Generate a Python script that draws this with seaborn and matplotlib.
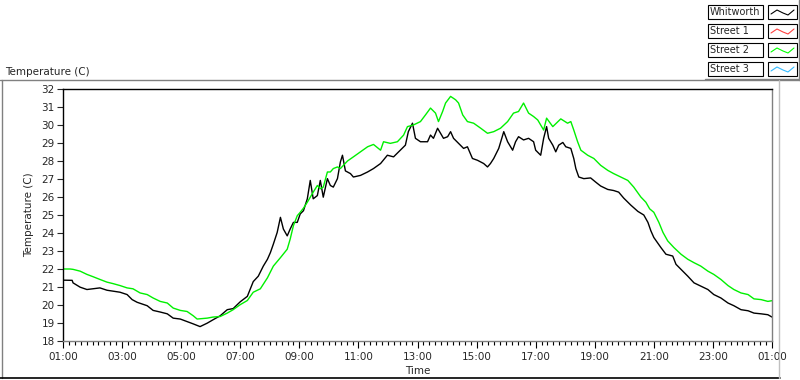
import matplotlib
matplotlib.use("Agg")
import matplotlib.pyplot as plt
import matplotlib.patches as mpatches
from matplotlib.lines import Line2D
from matplotlib.ticker import MultipleLocator
import pandas as pd
import seaborn as sns

# hours after 01:00, temperature in C
whitworth_h = [0.00, 0.31, 0.34, 0.58, 0.81, 1.02, 1.25, 1.49, 1.69, 1.93, 2.17, 2.34, 2.51,
               2.85, 3.05, 3.29, 3.53, 3.73, 3.97, 4.20, 4.41, 4.64, 4.88, 5.08, 5.32, 5.56,
               5.76, 6.00, 6.24, 6.44, 6.61, 6.78, 6.92, 7.02, 7.12, 7.25, 7.36, 7.46, 7.59,
               7.69, 7.80, 7.93, 8.03, 8.14, 8.27, 8.37, 8.47, 8.61, 8.71, 8.81, 8.95, 9.05,
               9.15, 9.29, 9.39, 9.46, 9.56, 9.73, 9.83, 10.07, 10.31, 10.51, 10.75, 10.98,
               11.19, 11.42, 11.59, 11.69, 11.83, 11.93, 12.10, 12.34, 12.44, 12.54, 12.68,
               12.78, 12.88, 13.02, 13.12, 13.22, 13.39, 13.56, 13.69, 13.86, 14.03, 14.24,
               14.37, 14.47, 14.58, 14.75, 14.92, 15.05, 15.22, 15.32, 15.42, 15.59, 15.76,
               15.93, 16.00, 16.17, 16.27, 16.37, 16.44, 16.58, 16.68, 16.78, 16.92, 17.02,
               17.19, 17.29, 17.36, 17.46, 17.63, 17.86, 18.03, 18.20, 18.44, 18.64, 18.81,
               18.98, 19.22, 19.46, 19.66, 19.80, 19.90, 20.00, 20.24, 20.41, 20.64, 20.75,
               20.92, 21.15, 21.36, 21.59, 21.83, 22.03, 22.27, 22.51, 22.71, 22.95, 23.19,
               23.39, 23.63, 23.86, 24.00]
whitworth_t = [21.38, 21.37, 21.23, 20.99, 20.86, 20.90, 20.95, 20.82, 20.77, 20.71, 20.58,
               20.30, 20.15, 19.96, 19.70, 19.61, 19.51, 19.27, 19.22, 19.08, 18.95, 18.80,
               18.99, 19.18, 19.40, 19.74, 19.80, 20.18, 20.48, 21.30, 21.60, 22.16, 22.54,
               22.91, 23.38, 24.03, 24.87, 24.22, 23.84, 24.22, 24.59, 24.59, 25.06, 25.24,
               25.90, 26.92, 25.90, 26.08, 26.92, 25.99, 27.02, 26.64, 26.55, 27.02, 27.95,
               28.32, 27.45, 27.30, 27.11, 27.20, 27.39, 27.58, 27.86, 28.32, 28.23, 28.60,
               28.88, 29.63, 30.10, 29.26, 29.07, 29.07, 29.44, 29.26, 29.82, 29.54, 29.26,
               29.35, 29.63, 29.26, 28.98, 28.70, 28.79, 28.14, 28.04, 27.86, 27.67, 27.86,
               28.14, 28.70, 29.63, 29.07, 28.60, 29.07, 29.35, 29.17, 29.26, 29.07, 28.60,
               28.32, 29.26, 29.91, 29.26, 28.88, 28.51, 28.88, 29.03, 28.79, 28.70, 28.14,
               27.58, 27.11, 27.02, 27.06, 26.83, 26.61, 26.42, 26.36, 26.27, 25.94, 25.55,
               25.20, 25.00, 24.59, 24.12, 23.75, 23.19, 22.82, 22.72, 22.26, 21.98, 21.60,
               21.23, 21.05, 20.86, 20.58, 20.39, 20.11, 19.96, 19.74, 19.68, 19.55, 19.51,
               19.46, 19.33]

street2_h = [0.00, 0.24, 0.34, 0.58, 0.81, 1.02, 1.25, 1.49, 1.69, 1.93, 2.17, 2.37, 2.61,
             2.85, 3.05, 3.29, 3.53, 3.73, 3.97, 4.20, 4.41, 4.54, 4.88, 5.08, 5.32, 5.56,
             5.76, 6.00, 6.24, 6.44, 6.68, 6.92, 7.12, 7.36, 7.59, 7.69, 7.80, 7.93, 8.03,
             8.14, 8.27, 8.37, 8.47, 8.61, 8.71, 8.81, 8.95, 9.05, 9.15, 9.29, 9.39, 9.63,
             9.83, 10.07, 10.31, 10.51, 10.75, 10.85, 11.08, 11.32, 11.53, 11.66, 11.86,
             12.10, 12.27, 12.44, 12.61, 12.71, 12.85, 12.95, 13.12, 13.29, 13.39, 13.53,
             13.69, 13.90, 14.14, 14.37, 14.58, 14.81, 15.05, 15.25, 15.42, 15.59, 15.76,
             15.93, 16.07, 16.27, 16.37, 16.58, 16.85, 17.08, 17.19, 17.29, 17.42, 17.53,
             17.76, 17.97, 18.20, 18.44, 18.64, 18.88, 19.12, 19.32, 19.56, 19.73, 19.86,
             20.00, 20.17, 20.31, 20.47, 20.68, 20.92, 21.15, 21.36, 21.59, 21.83, 22.03,
             22.27, 22.51, 22.71, 22.95, 23.19, 23.39, 23.63, 23.86, 24.00]
street2_t = [22.00, 22.00, 21.98, 21.88, 21.70, 21.57, 21.42, 21.27, 21.19, 21.08, 20.95,
             20.90, 20.67, 20.58, 20.39, 20.20, 20.11, 19.83, 19.70, 19.64, 19.40, 19.22,
             19.27, 19.33, 19.36, 19.55, 19.74, 20.02, 20.25, 20.71, 20.90, 21.51, 22.16,
             22.63, 23.10, 23.66, 24.41, 24.96, 25.15, 25.38, 25.71, 25.99, 26.27, 26.64,
             26.46, 26.55, 27.39, 27.39, 27.58, 27.67, 27.58, 28.00, 28.23, 28.51, 28.79,
             28.92, 28.60, 29.07, 28.98, 29.07, 29.44, 29.91, 30.00, 30.19, 30.56, 30.94,
             30.66, 30.19, 30.75, 31.22, 31.59, 31.40, 31.22, 30.56, 30.19, 30.10, 29.82,
             29.54, 29.63, 29.82, 30.19, 30.66, 30.75, 31.22, 30.66, 30.47, 30.28, 29.72,
             30.38, 29.91, 30.34, 30.10, 30.19, 29.72, 29.07, 28.60, 28.32, 28.14, 27.76,
             27.48, 27.30, 27.11, 26.92, 26.55, 26.00, 25.71, 25.34, 25.15, 24.59, 24.03,
             23.56, 23.19, 22.82, 22.54, 22.35, 22.16, 21.88, 21.70, 21.42, 21.08, 20.86,
             20.67, 20.58, 20.34, 20.30, 20.20, 20.24]

tick_hours = [0, 2, 4, 6, 8, 10, 12, 14, 16, 18, 20, 22, 24]
tick_labels = ["01:00", "03:00", "05:00", "07:00", "09:00", "11:00", "13:00",
               "15:00", "17:00", "19:00", "21:00", "23:00", "01:00"]
legend_names = ["Whitworth", "Street 1", "Street 2", "Street 3"]
legend_colors = ["#000000", "#ff4040", "#00ff00", "#33bbff"]

df = pd.concat([
    pd.DataFrame({"hour": whitworth_h, "temp": whitworth_t, "series": "Whitworth"}),
    pd.DataFrame({"hour": street2_h, "temp": street2_t, "series": "Street 2"}),
])

sns.set_style("ticks")
plt.rcParams["font.family"] = ["DejaVu Sans"]
plt.rcParams["font.size"] = 7.5

W, H = 800, 380
fig = plt.figure(figsize=(8, 3.8), dpi=100)

# outer graph frame
fig.add_artist(Line2D([0, 1], [1 - 80 / H, 1 - 80 / H], color="#808080", lw=1))
fig.add_artist(Line2D([1.5 / W, 1.5 / W], [1 - 80 / H, 1 - 378 / H], color="#808080", lw=1))
fig.add_artist(Line2D([0, 780 / W], [1 - 378 / H, 1 - 378 / H], color="black", lw=1.2))
fig.add_artist(Line2D([779 / W, 779 / W], [1 - 80 / H, 1 - 378 / H], color="#c0c0c0", lw=1))

ax = fig.add_axes([63 / W, 1 - 341 / H, (772 - 63) / W, (341 - 89) / H])
sns.lineplot(data=df, x="hour", y="temp", hue="series", estimator=None, sort=False,
             palette={"Whitworth": "black", "Street 2": "#00f000"}, lw=1.0,
             legend=False, ax=ax)

ax.set_xlim(0, 24)
ax.set_ylim(18, 32)
ax.set_xticks(tick_hours)
ax.set_xticklabels(tick_labels)
ax.xaxis.set_minor_locator(MultipleLocator(0.2))
ax.yaxis.set_major_locator(MultipleLocator(1))
ax.tick_params(axis="x", which="major", length=5, width=0.8, pad=3, color="black")
ax.tick_params(axis="x", which="minor", length=3, width=0.8, color="black")
ax.tick_params(axis="y", which="major", length=4, width=0.8, pad=2)
ax.set_xlabel("Time", labelpad=3)
ax.set_ylabel("Temperature (C)", labelpad=5)
for side, col in [("left", "black"), ("top", "black"), ("right", "#808080"), ("bottom", "#808080")]:
    ax.spines[side].set_visible(True)
    ax.spines[side].set_color(col)
    ax.spines[side].set_linewidth(1)

fig.text(5 / W, 1 - 72 / H, "Temperature (C)", ha="left", va="center")

# plot legend in the top right corner
row_tops = [5, 24, 43, 62]
for name, col, top in zip(legend_names, legend_colors, row_tops):
    y0 = 1 - (top + 14) / H
    fig.add_artist(mpatches.Rectangle((708 / W, y0), 55 / W, 14 / H, transform=fig.transFigure,
                                      fc="white", ec="black", lw=0.8))
    fig.add_artist(mpatches.Rectangle((768 / W, y0), 29 / W, 14 / H, transform=fig.transFigure,
                                      fc="white", ec="black", lw=0.8))
    fig.text(710 / W, y0 + 7 / H, name, ha="left", va="center", fontsize=7)
    xs = [771, 777, 783, 788, 794]
    ys = [top + 9, top + 5, top + 8, top + 10, top + 5]
    fig.add_artist(Line2D([x / W for x in xs], [1 - y / H for y in ys], color=col, lw=0.8))
fig.add_artist(Line2D([798.5 / W, 798.5 / W], [1, 1 - 80 / H], color="#808080", lw=1))
fig.add_artist(Line2D([705 / W, 1], [1 - 79 / H, 1 - 79 / H], color="#808080", lw=1))

fig.savefig("out.png", dpi=100)
